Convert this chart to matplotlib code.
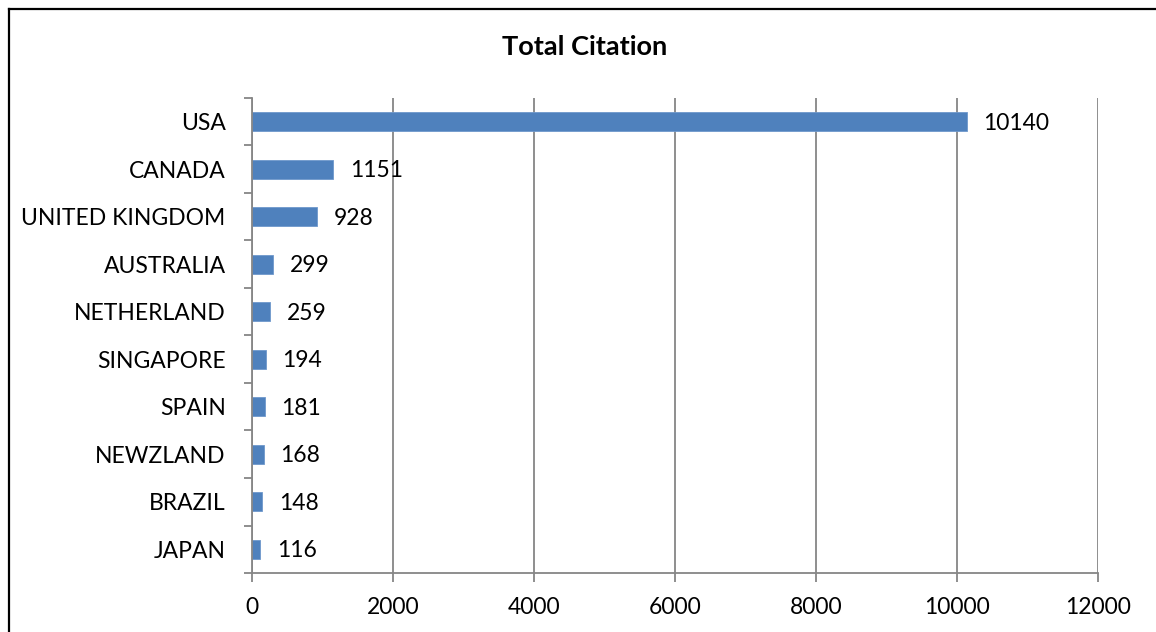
import matplotlib
matplotlib.use("Agg")
import matplotlib.pyplot as plt
from matplotlib.lines import Line2D
import numpy as np

countries = ["USA", "CANADA", "UNITED KINGDOM", "AUSTRALIA", "NETHERLAND",
             "SINGAPORE", "SPAIN", "NEWZLAND", "BRAZIL", "JAPAN"]
citations = [10140, 1151, 928, 299, 259, 194, 181, 168, 148, 116]
x_ticks = [0, 2000, 4000, 6000, 8000, 10000, 12000]

plt.rcParams["font.family"] = ["Lato", "DejaVu Sans"]

W, H = 1156, 632
fig = plt.figure(figsize=(W / 100, H / 100), dpi=100)
ax = fig.add_axes([252 / W, (H - 573) / H, (1098 - 252) / W, (573 - 98) / H])

grid_c = "#868686"
fs = 16.5
pos = np.arange(len(countries))
ax.barh(pos, citations, height=0.4, color="#4F81BD", edgecolor="#6F98CC",
        linewidth=0.6, zorder=3)

for p, v in zip(pos, citations):
    ax.annotate(f"{v}", xy=(v, p), xytext=(12, -1), textcoords="offset points",
                va="center", ha="left", fontsize=fs, color="black")

ax.set_xlim(0, 12000)
ax.set_ylim(len(countries) - 0.5, -0.5)
ax.set_xticks(x_ticks)
ax.set_xticklabels([str(t) for t in x_ticks], fontsize=fs)
ax.set_yticks(pos)
ax.set_yticklabels(countries, fontsize=fs)
ax.set_yticks(np.arange(len(countries) + 1) - 0.5, minor=True)

ax.tick_params(axis="y", which="major", length=0, pad=19)
ax.tick_params(axis="y", which="minor", length=6, width=1.3, color=grid_c,
               direction="out")
ax.tick_params(axis="x", which="major", length=6.5, width=1.3, color=grid_c,
               direction="out", pad=11)

ax.grid(axis="x", color=grid_c, linewidth=1.3, zorder=0)
ax.set_axisbelow(True)
for s in ["top", "right"]:
    ax.spines[s].set_visible(False)
for s in ["left", "bottom"]:
    ax.spines[s].set_color(grid_c)
    ax.spines[s].set_linewidth(1.3)
    ax.spines[s].set_zorder(4)

fig.text(585 / W, 1 - 47 / H, "Total Citation", ha="center", va="center",
         fontsize=19.5, fontweight="bold")

# outer frame: left and top edges
fig.add_artist(Line2D([9 / W, 9 / W], [0, 1 - 9 / H], color="black",
                      linewidth=1.6, transform=fig.transFigure))
fig.add_artist(Line2D([9 / W, 1], [1 - 9 / H, 1 - 9 / H], color="black",
                      linewidth=1.6, transform=fig.transFigure))

fig.savefig("out.png", dpi=100, facecolor="white")
